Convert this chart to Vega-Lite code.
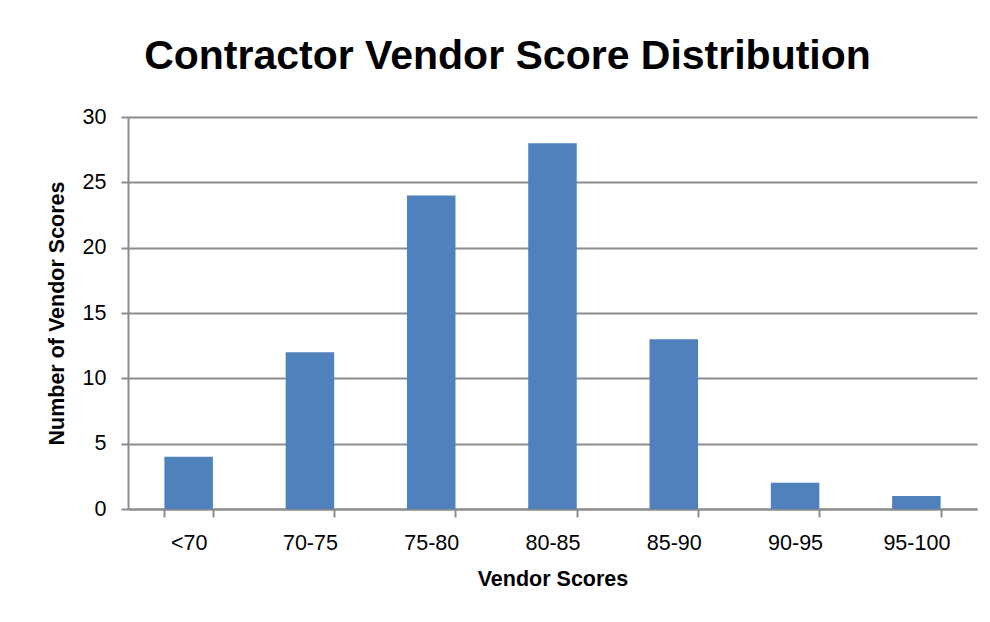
{
  "$schema": "https://vega.github.io/schema/vega-lite/v6.json",
  "width": 849,
  "height": 392,
  "autosize": "none",
  "padding": {"left": 128, "top": 117, "right": 13, "bottom": 113},
  "background": "white",
  "config": {
    "font": "Liberation Sans",
    "view": {"stroke": null}
  },
  "title": {
    "text": "Contractor Vendor Score Distribution",
    "fontSize": 41,
    "fontWeight": "bold",
    "font": "Liberation Sans",
    "color": "black",
    "anchor": "middle",
    "dx": -45,
    "offset": 28
  },
  "data": {
    "values": [
      {"range": "<70", "count": 4},
      {"range": "70-75", "count": 12},
      {"range": "75-80", "count": 24},
      {"range": "80-85", "count": 28},
      {"range": "85-90", "count": 13},
      {"range": "90-95", "count": 2},
      {"range": "95-100", "count": 1}
    ]
  },
  "mark": {"type": "bar", "color": "#4F81BD"},
  "encoding": {
    "x": {
      "field": "range",
      "type": "nominal",
      "sort": null,
      "scale": {"paddingInner": 0.6, "paddingOuter": 0.3},
      "axis": {
        "title": "Vendor Scores",
        "titleFontSize": 21.5,
        "titleFontWeight": "bold",
        "titleColor": "black",
        "titlePadding": 15,
        "labelAngle": 0,
        "labelFontSize": 21.5,
        "labelColor": "black",
        "labelPadding": 15,
        "tickBand": "extent",
        "tickSize": 8,
        "tickColor": "#8c8c8c",
        "tickWidth": 2,
        "domainColor": "#8c8c8c",
        "domainWidth": 2,
        "grid": false
      }
    },
    "y": {
      "field": "count",
      "type": "quantitative",
      "scale": {"domain": [0, 30]},
      "axis": {
        "title": "Number of Vendor Scores",
        "titleFontSize": 21.5,
        "titleFontWeight": "bold",
        "titleColor": "black",
        "titlePadding": 14,
        "values": [0, 5, 10, 15, 20, 25, 30],
        "labelFontSize": 21.5,
        "labelColor": "black",
        "labelPadding": 15,
        "tickSize": 7,
        "tickColor": "#8c8c8c",
        "tickWidth": 2,
        "domainColor": "#8c8c8c",
        "domainWidth": 2,
        "grid": true,
        "gridColor": "#8c8c8c",
        "gridWidth": 2
      }
    }
  }
}
